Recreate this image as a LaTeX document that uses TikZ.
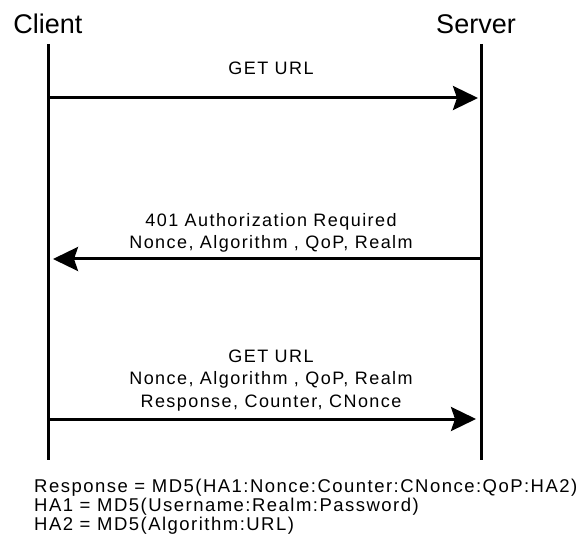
\documentclass[tikz,border=0pt]{standalone}
\usepackage{fontspec}
\setmainfont{Liberation Sans}
\newfontfamily\spacedfont[LetterSpace=8]{Liberation Sans}
\usetikzlibrary{arrows.meta}
\begin{document}
\begin{tikzpicture}[x=1pt,y=-1pt,
  lifeline/.style={line width=3pt},
  msg/.style={line width=3pt,-{Stealth[length=25pt,width=24pt,inset=4pt]}},
  actor/.style={font=\fontsize{27}{30}\selectfont,inner sep=0pt,anchor=base},
  lbl/.style={font=\spacedfont\fontsize{18}{22.3}\selectfont,align=center,inner sep=0pt,anchor=base},
  note/.style={font=\spacedfont\fontsize{18.5}{18.7}\selectfont,align=left,inner sep=0pt,anchor=base west}]
\useasboundingbox (0,0) rectangle (581,537);
\fill[white] (0,0) rectangle (581,537);
\node[actor] (client) at (48,33.3) {Client};
\node[actor] (server) at (476,33.3) {Server};
\coordinate (ctop) at (48,44);
\coordinate (cbot) at (48,460);
\coordinate (stop) at (481,44);
\coordinate (sbot) at (481,460);
\draw[lifeline] (ctop) -- (cbot);
\draw[lifeline] (stop) -- (sbot);
\coordinate (c1) at (50,98);
\coordinate (s1) at (478,98);
\coordinate (c2) at (53,259);
\coordinate (s2) at (482.5,259);
\coordinate (c3) at (50,419);
\coordinate (s3) at (476,419);
\draw[msg] (c1) -- (s1);
\draw[msg] (s2) -- (c2);
\draw[msg] (c3) -- (s3);
\node[lbl] (m1) at (271,75) {GET URL};
\node[lbl] (m2) at (271,249) {401 Authorization Required\\Nonce, Algorithm , QoP, Realm};
\node[lbl] (m3) at (271,407) {GET URL\\Nonce, Algorithm , QoP, Realm\\Response, Counter, CNonce};
\node[note] (formula) at (34,530) {Response = MD5(HA1:Nonce:Counter:CNonce:QoP:HA2)\\HA1 = MD5(Username:Realm:Password)\\HA2 = MD5(Algorithm:URL)};
\end{tikzpicture}
\end{document}
